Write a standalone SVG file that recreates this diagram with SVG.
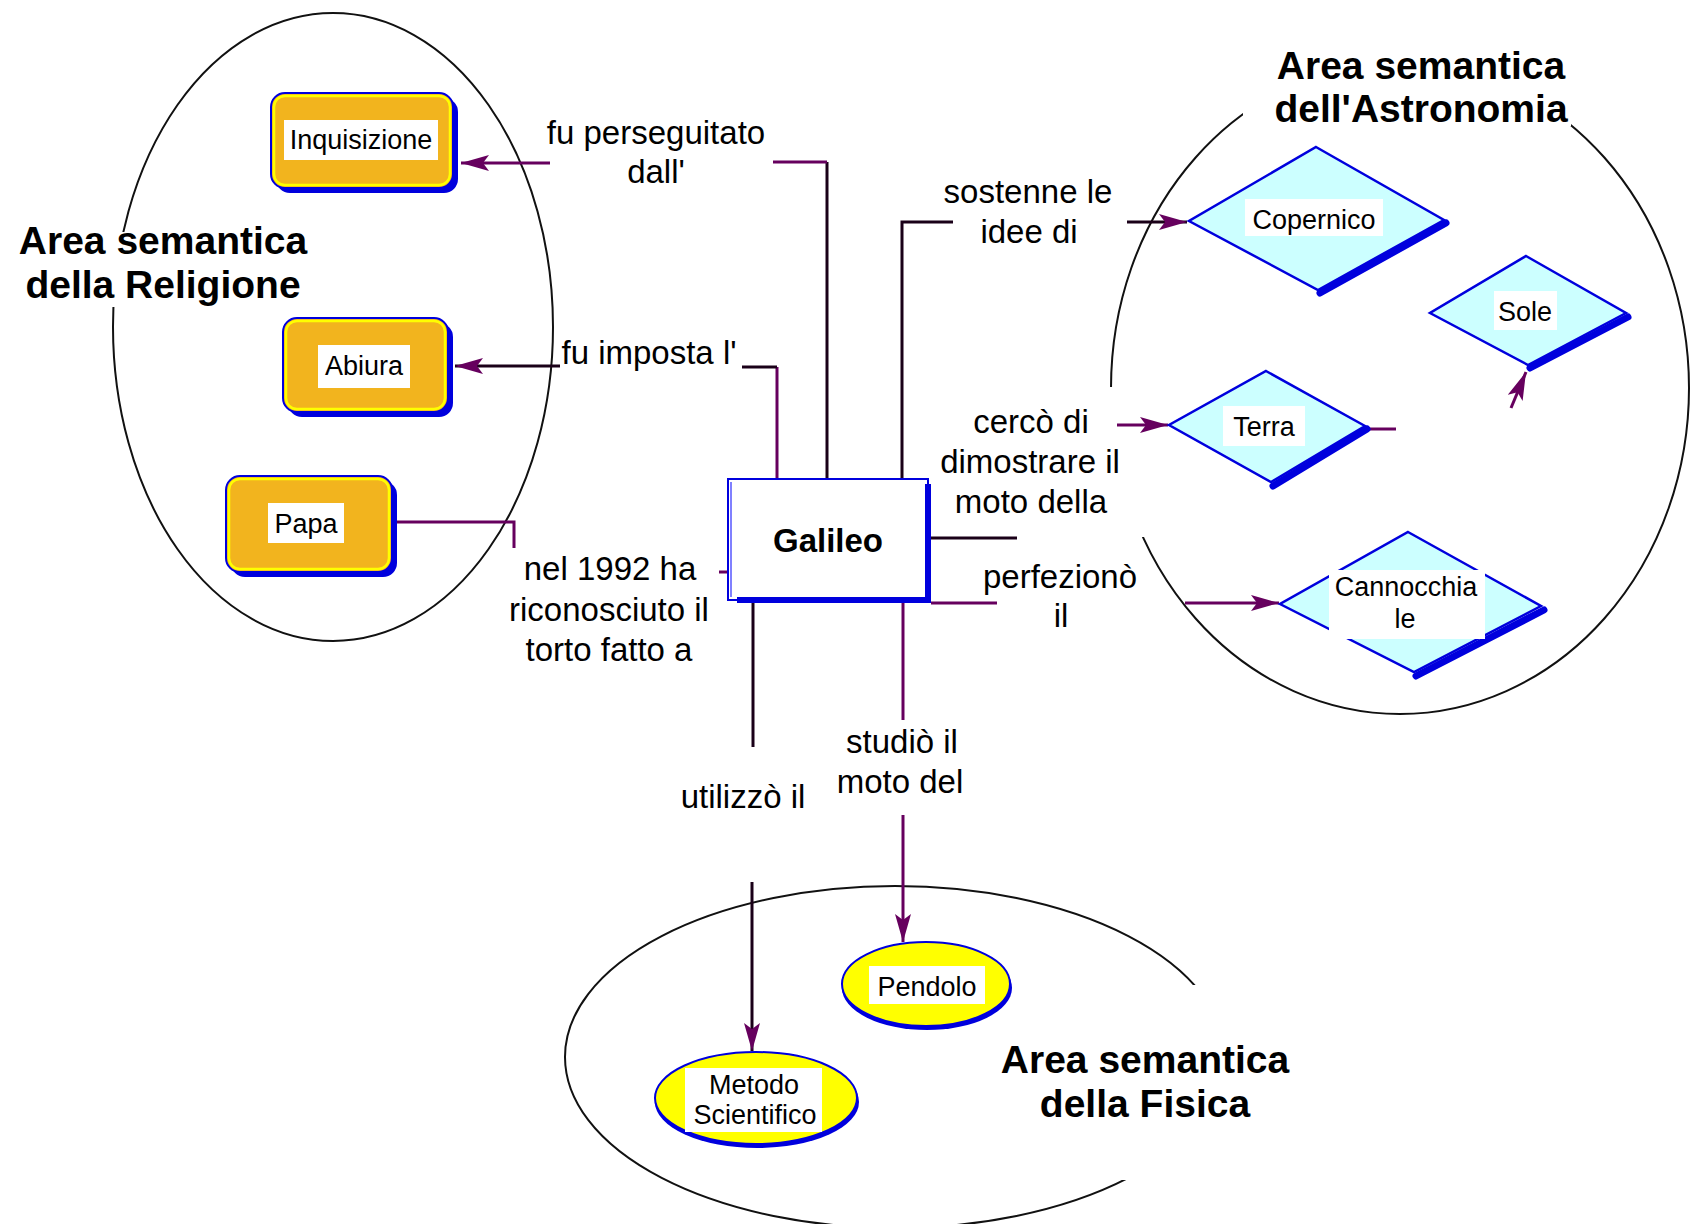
<svg xmlns="http://www.w3.org/2000/svg" width="1691" height="1224" viewBox="0 0 1691 1224">
<style>
.area{fill:none;stroke:#111;stroke-width:2}
.bg{fill:#fff}
.title{font-family:'Liberation Sans',Arial,sans-serif;font-weight:bold;font-size:39px;fill:#000;text-anchor:middle}
.lbl{font-family:'Liberation Sans',Arial,sans-serif;font-size:33px;fill:#000;text-anchor:middle}
.nt{font-family:'Liberation Sans',Arial,sans-serif;font-size:27px;fill:#000;text-anchor:middle}
.k{fill:none;stroke:#1a0018;stroke-width:3}
.p{fill:none;stroke:#66005e;stroke-width:3}
.osh{fill:#0000dd}
.ob{fill:#f2b41e;stroke:#0000dd;stroke-width:2}
.oi{fill:none;stroke:#ffff00;stroke-width:2.5}
.wl{fill:#fff}
.dm{fill:#ccffff;stroke:#0000dd;stroke-width:2.5}
.dsh{stroke:#0000dd;stroke-width:7;stroke-linecap:round}
.ye{fill:#ffff00;stroke:#0000dd;stroke-width:2}
</style>
<defs>
<marker id="ah" viewBox="0 0 28 16" refX="28" refY="8" markerWidth="28" markerHeight="16" orient="auto" markerUnits="userSpaceOnUse">
<path d="M0,0 L28,8 L0,16 L6,8 Z" fill="#66005e"/>
</marker>
</defs>
<rect width="1691" height="1224" fill="#fff"/>

<g id="areas">
<ellipse class="area" cx="333" cy="327" rx="220" ry="314"/>
<ellipse class="area" cx="1400" cy="388" rx="289" ry="326"/>
<ellipse class="area" cx="895" cy="1057" rx="330" ry="171"/>
<rect class="bg" x="15" y="232" width="296" height="75"/>
<rect class="bg" x="1243" y="28" width="328" height="98"/>
<rect class="bg" x="995" y="985" width="300" height="195"/>
<rect class="bg" x="935" y="387" width="215" height="150"/>
<text class="title" x="163" y="254">Area semantica</text>
<text class="title" x="163" y="298">della Religione</text>
<text class="title" x="1421" y="79">Area semantica</text>
<text class="title" x="1421" y="122">dell'Astronomia</text>
<text class="title" x="1145" y="1073">Area semantica</text>
<text class="title" x="1145" y="1117">della Fisica</text>
</g>

<g id="connectors">
<path class="k" d="M827,478 V162"/>
<path class="p" d="M827,162 H773"/>
<path class="p" d="M550,163 H461" marker-end="url(#ah)"/>
<text class="lbl" x="656" y="144">fu perseguitato</text>
<text class="lbl" x="656" y="183">dall'</text>

<path class="p" d="M777,478 V367"/>
<path class="k" d="M777,367 H742"/>
<path class="k" d="M560,366 H455" marker-end="url(#ah)"/>
<text class="lbl" x="649" y="364">fu imposta l'</text>

<path class="k" d="M902,478 V222 H953"/>
<path class="k" d="M1127,222 H1187" marker-end="url(#ah)"/>
<text class="lbl" x="1028" y="203">sostenne le</text>
<text class="lbl" x="1029" y="243">idee di</text>

<path class="k" d="M931,538 H1017"/>
<path class="p" d="M1117,425 H1168" marker-end="url(#ah)"/>
<text class="lbl" x="1031" y="433">cercò di</text>
<text class="lbl" x="1030" y="473">dimostrare il</text>
<text class="lbl" x="1031" y="513">moto della</text>

<path class="p" d="M931,603 H997"/>
<path class="p" d="M1185,603 H1279" marker-end="url(#ah)"/>
<text class="lbl" x="1060" y="588">perfezionò</text>
<text class="lbl" x="1061" y="627">il</text>

<path class="p" d="M397,522 H514 V548"/>
<path class="p" d="M719,572 H728"/>
<text class="lbl" x="610" y="580">nel 1992 ha</text>
<text class="lbl" x="609" y="621">riconosciuto il</text>
<text class="lbl" x="609" y="661">torto fatto a</text>

<path class="k" d="M753,603 V747"/>
<path class="k" d="M752,882 V1051" marker-end="url(#ah)"/>
<text class="lbl" x="743" y="808">utilizzò il</text>

<path class="p" d="M903,603 V720"/>
<path class="p" d="M903,815 V942" marker-end="url(#ah)"/>
<text class="lbl" x="902" y="753">studiò il</text>
<text class="lbl" x="900" y="793">moto del</text>

<path class="p" d="M1368,429 H1396"/>
<path class="p" d="M1511,408 L1526,372" marker-end="url(#ah)"/>
</g>

<g id="inquisizione">
<rect class="osh" x="276" y="98" width="182" height="95" rx="14"/>
<rect class="ob" x="271" y="93" width="182" height="95" rx="14"/>
<rect class="oi" x="274" y="96" width="176" height="89" rx="11"/>
<rect class="wl" x="284" y="120" width="154" height="40"/>
<text class="nt" x="361" y="149">Inquisizione</text>
</g>

<g id="abiura">
<rect class="osh" x="288" y="323" width="165" height="94" rx="14"/>
<rect class="ob" x="283" y="318" width="165" height="94" rx="14"/>
<rect class="oi" x="286" y="321" width="159" height="88" rx="11"/>
<rect class="wl" x="318" y="345" width="92" height="43"/>
<text class="nt" x="364" y="375">Abiura</text>
</g>

<g id="papa">
<rect class="osh" x="231" y="481" width="166" height="96" rx="14"/>
<rect class="ob" x="226" y="476" width="166" height="96" rx="14"/>
<rect class="oi" x="229" y="479" width="160" height="90" rx="11"/>
<rect class="wl" x="268" y="503" width="76" height="40"/>
<text class="nt" x="306" y="533">Papa</text>
</g>

<g id="galileo">
<rect x="728" y="479" width="200" height="121" fill="#fff" stroke="#0000dd" stroke-width="2"/>
<line x1="731" y1="482" x2="731" y2="597" stroke="#8080ff" stroke-width="2"/>
<rect x="925" y="484" width="6" height="119" fill="#0000dd"/>
<rect x="737" y="597" width="194" height="6" fill="#0000dd"/>
<text x="828" y="552" font-family="'Liberation Sans',Arial,sans-serif" font-weight="bold" font-size="33" text-anchor="middle" fill="#000">Galileo</text>
</g>

<g id="copernico">
<line class="dsh" x1="1446" y1="223" x2="1320" y2="293"/>
<polygon class="dm" points="1316,147 1444,220 1318,290 1189,221"/>
<rect class="wl" x="1245" y="199" width="138" height="37"/>
<text class="nt" x="1314" y="229">Copernico</text>
</g>

<g id="sole">
<line class="dsh" x1="1628" y1="317" x2="1530" y2="368"/>
<polygon class="dm" points="1526,256 1626,313 1528,365 1430,313"/>
<rect class="wl" x="1494" y="291" width="63" height="39"/>
<text class="nt" x="1525" y="321">Sole</text>
</g>

<g id="terra">
<line class="dsh" x1="1367" y1="429" x2="1273" y2="486"/>
<polygon class="dm" points="1266,371 1365,426 1271,482 1169,425"/>
<rect class="wl" x="1223" y="406" width="82" height="40"/>
<text class="nt" x="1264" y="436">Terra</text>
</g>

<g id="cannocchiale">
<line class="dsh" x1="1544" y1="610" x2="1416" y2="676"/>
<polygon class="dm" points="1408,532 1541,606 1414,672 1280,604"/>
<rect class="wl" x="1329" y="570" width="156" height="69"/>
<text class="nt" x="1406" y="596">Cannocchia</text>
<text class="nt" x="1405" y="628">le</text>
</g>

<g id="pendolo">
<ellipse cx="927" cy="988" rx="85" ry="42" fill="#0000dd"/>
<ellipse class="ye" cx="926" cy="984" rx="84" ry="42"/>
<rect class="wl" x="869" y="966" width="116" height="38"/>
<text class="nt" x="927" y="996">Pendolo</text>
</g>

<g id="metodo">
<ellipse cx="757" cy="1102" rx="102" ry="46" fill="#0000dd"/>
<ellipse class="ye" cx="756" cy="1098" rx="101" ry="46"/>
<rect class="wl" x="685" y="1068" width="137" height="64"/>
<text class="nt" x="754" y="1094">Metodo</text>
<text class="nt" x="755" y="1124">Scientifico</text>
</g>
</svg>
